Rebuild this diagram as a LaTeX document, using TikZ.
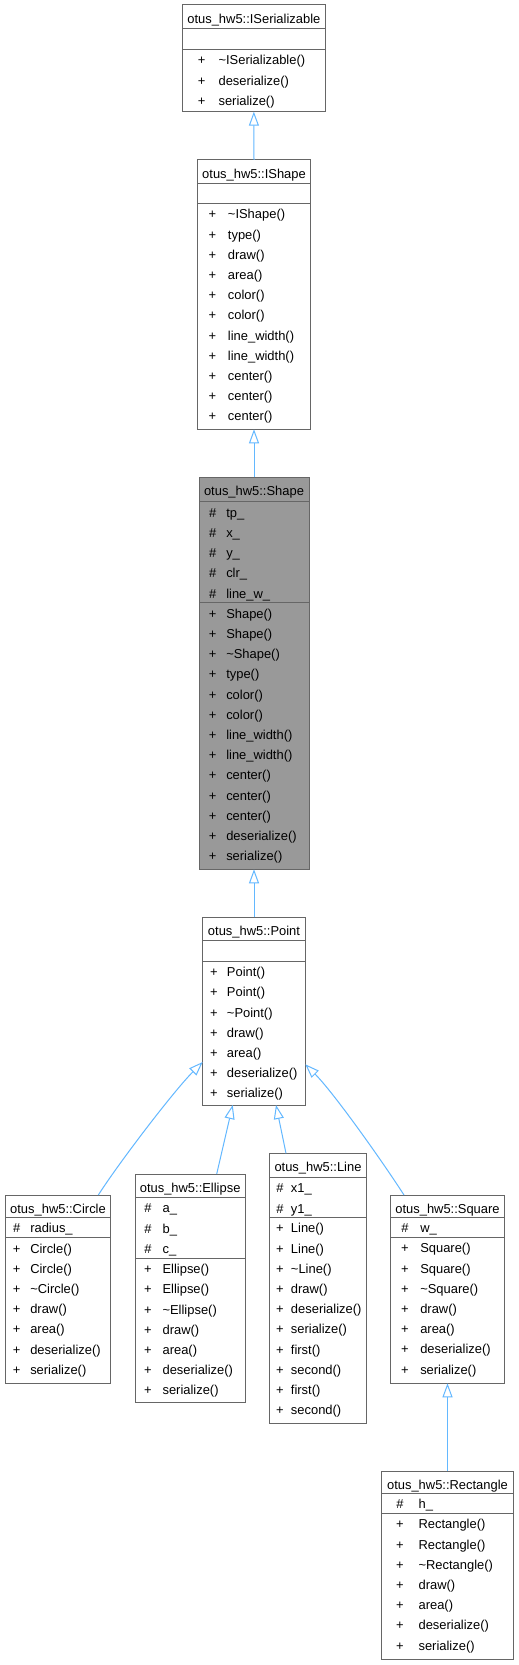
\documentclass[tikz,border=0pt]{standalone}
\usepackage{fontspec}
\setmainfont{Liberation Sans}
\usetikzlibrary{arrows.meta,calc}
\definecolor{boxgray}{HTML}{666666}
\definecolor{fillgray}{HTML}{999999}
\definecolor{edgeblue}{HTML}{63B8FF}

% #1 name, #2 L, #3 R, #4 T, #5 sep1, #6 sep2, #7 B, #8 fill
\newcommand\umlclass[8]{%
  \node[umlframe, fill=#8, minimum width={(#3-#2)*0.75pt}, minimum height={(#7-#4)*0.75pt}] (#1) at ({(#2+#3)/2},{(#4+#7)/2}) {};
  \draw[sepl] (#2,#5) -- (#3,#5);
  \draw[sepl] (#2,#6) -- (#3,#6);
}
% #1 name, #2 text
\newcommand\umltitle[2]{%
  \node[ttl] (#1-t) at ($(#1.north)+(0,18.5)$) {#2};
}
% #1 prefix, #2 symbol, #3 symbol x, #4 text x, #5 separator y, #6 list
\newcommand\umlrows[6]{%
  \foreach \t [count=\i] in {#6} {
    \pgfmathsetmacro\yy{#5+15.6+(\i-1)*20.2}
    \node[symb] (#1-\i-s) at (#3,\yy) {#2};
    \node[memb] (#1-\i) at (#4,\yy) {\t};
  }
}

\begin{document}
\begin{tikzpicture}[x=0.75pt,y=-0.75pt,
  font=\fontsize{9.7pt}{11pt}\selectfont,
  umlframe/.style={draw=boxgray, line width=0.75pt, inner sep=0pt, outer sep=0pt, rectangle},
  sepl/.style={draw=boxgray, line width=0.75pt},
  ttl/.style={anchor=base, inner sep=0pt},
  symb/.style={anchor=base, inner sep=0pt},
  memb/.style={anchor=base west, inner sep=0pt},
  inh/.style={draw=edgeblue, line width=0.75pt, -{Triangle[open,length=10.5pt,width=7.5pt]}}]
\useasboundingbox (0,0) rectangle (518,1665);
\fill[white] (0,0) rectangle (518,1665);

% ISerializable
\umlclass{iser}{182.7}{325}{5}{28.3}{49.3}{111.7}{white}
\umltitle{iser}{otus\_hw5::ISerializable}
\umlrows{iser-m}{+}{201.7}{218.3}{49.3}{\textasciitilde ISerializable(), deserialize(), serialize()}

% IShape
\umlclass{ishape}{197.3}{310.7}{160}{183.3}{203.3}{429.3}{white}
\umltitle{ishape}{otus\_hw5::IShape}
\umlrows{ishape-m}{+}{212.3}{227.7}{203.3}{\textasciitilde IShape(), type(), draw(), area(), color(), color(), line\_width(), line\_width(), center(), center(), center()}

% Shape
\umlclass{shape}{199}{309}{477.3}{501.7}{602.7}{869.3}{fillgray}
\umltitle{shape}{otus\_hw5::Shape}
\umlrows{shape-a}{\#}{212.7}{226}{501.7}{tp\_, x\_, y\_, clr\_, line\_w\_}
\umlrows{shape-m}{+}{212.7}{226}{602.7}{Shape(), Shape(), \textasciitilde Shape(), type(), color(), color(), line\_width(), line\_width(), center(), center(), center(), deserialize(), serialize()}

% Point
\umlclass{point}{202.7}{305.3}{917.3}{940.7}{961}{1105}{white}
\umltitle{point}{otus\_hw5::Point}
\umlrows{point-m}{+}{214}{226.7}{961}{Point(), Point(), \textasciitilde Point(), draw(), area(), deserialize(), serialize()}

% Circle
\umlclass{circ}{5.3}{110.7}{1195}{1217.3}{1237.5}{1383.3}{white}
\umltitle{circ}{otus\_hw5::Circle}
\umlrows{circ-a}{\#}{16.7}{30}{1217.3}{radius\_}
\umlrows{circ-m}{+}{16.7}{30}{1237.5}{Circle(), Circle(), \textasciitilde Circle(), draw(), area(), deserialize(), serialize()}

% Ellipse
\umlclass{ellip}{135}{245.3}{1174}{1197.3}{1258}{1402.7}{white}
\umltitle{ellip}{otus\_hw5::Ellipse}
\umlrows{ellip-a}{\#}{148}{162.3}{1197.3}{a\_, b\_, c\_}
\umlrows{ellip-m}{+}{148}{162.3}{1258}{Ellipse(), Ellipse(), \textasciitilde Ellipse(), draw(), area(), deserialize(), serialize()}

% Line
\umlclass{lin}{269.3}{366.7}{1153.3}{1177.3}{1217.3}{1423.3}{white}
\umltitle{lin}{otus\_hw5::Line}
\umlrows{lin-a}{\#}{280}{290.7}{1177.3}{x1\_, y1\_}
\umlrows{lin-m}{+}{280}{290.7}{1217.3}{Line(), Line(), \textasciitilde Line(), draw(), deserialize(), serialize(), first(), second(), first(), second()}

% Square
\umlclass{square}{390.7}{504.3}{1195}{1217.3}{1237.3}{1383.3}{white}
\umltitle{square}{otus\_hw5::Square}
\umlrows{square-a}{\#}{405}{420}{1217.3}{w\_}
\umlrows{square-m}{+}{405}{420}{1237.3}{Square(), Square(), \textasciitilde Square(), draw(), area(), deserialize(), serialize()}

% Rectangle
\umlclass{rect}{381.7}{513.3}{1471}{1493.3}{1513.3}{1659.3}{white}
\umltitle{rect}{otus\_hw5::Rectangle}
\umlrows{rect-a}{\#}{400}{418.3}{1493.3}{h\_}
\umlrows{rect-m}{+}{400}{418.3}{1513.3}{Rectangle(), Rectangle(), \textasciitilde Rectangle(), draw(), area(), deserialize(), serialize()}

% inheritance edges
\draw[inh] (ishape.north) -- (iser.south);
\draw[inh] (shape.north) -- (ishape.south);
\draw[inh] (point.north) -- (shape.south);
\draw[inh] (rect.north) -- (square.south);

\coordinate (eS) at ($(ellip.north west)+(81.7,0)$);
\coordinate (pB1) at ($(point.south west)+(30,0)$);
\draw[inh] (eS) -- (pB1);

\coordinate (lS) at ($(lin.north west)+(16.7,0)$);
\coordinate (pB2) at ($(point.south west)+(73.3,0)$);
\draw[inh] (lS) -- (pB2);

\coordinate (cS) at ($(circ.north west)+(93,0)$);
\coordinate (cE) at ($(point.north west)+(0,144.7)$);
\draw[inh] (cS) .. controls ($(cS)+(21.6,-33.6)$) and ($(cE)+(-28.4,28.4)$) .. (cE);

\coordinate (sS) at ($(square.north west)+(13.3,0)$);
\coordinate (sE) at ($(point.north east)+(0,147)$);
\draw[inh] (sS) .. controls ($(sS)+(-21.6,-33.6)$) and ($(sE)+(28.4,28.4)$) .. (sE);
\end{tikzpicture}
\end{document}
